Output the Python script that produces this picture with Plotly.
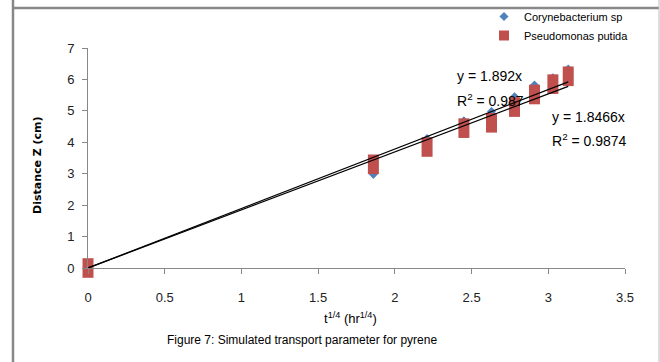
import plotly.graph_objects as go

# data
t_quarter = [0, 1.86, 2.21, 2.45, 2.63, 2.78, 2.91, 3.03, 3.13]
coryne = [0, 2.98, 4.12, 4.68, 4.98, 5.45, 5.82, 6.05, 6.33]
pseudo = [0, 3.30, 3.85, 4.45, 4.62, 5.12, 5.52, 5.85, 6.10]
fit_slopes = {"coryne": 1.892, "pseudo": 1.8466}
fit_r2 = {"coryne": 0.987, "pseudo": 0.9874}
x_ticks = [0, 0.5, 1, 1.5, 2, 2.5, 3, 3.5]
y_ticks = [0, 1, 2, 3, 4, 5, 6, 7]

FONT = "Liberation Sans, Arial, sans-serif"
BLUE = "#4F81BD"
RED = "#C0504D"

fig = go.Figure()

# data traces
fig.add_trace(go.Scatter(
    x=t_quarter, y=coryne, mode="markers", name="Corynebacterium sp",
    marker=dict(symbol="diamond", size=7, color=BLUE),
    cliponaxis=False, showlegend=True, legendrank=1,
))
fig.add_trace(go.Scatter(
    x=t_quarter, y=pseudo, mode="markers", name="Pseudomonas putida",
    marker=dict(symbol="line-ns", size=14, color=RED,
                line=dict(color=RED, width=11)),
    cliponaxis=False, showlegend=False,
))
# legend proxy for the red series (no data points)
fig.add_trace(go.Scatter(
    x=[None], y=[None], mode="markers", name="Pseudomonas putida",
    marker=dict(symbol="square", size=10, color=RED),
    showlegend=True, legendrank=2,
))

x_end = t_quarter[-1]
for key in ["coryne", "pseudo"]:
    s = fit_slopes[key]
    fig.add_trace(go.Scatter(
        x=[0, x_end], y=[0, s * x_end], mode="lines", showlegend=False,
        line=dict(color="black", width=1.2), cliponaxis=False,
    ))

ann_font = dict(family=FONT, size=14, color="#000000")
annotations = [
    dict(x=2.39, y=6.11, xref="x", yref="y", text=f"y = {fit_slopes['coryne']}x",
         showarrow=False, xanchor="left", yanchor="middle", font=ann_font),
    dict(x=2.39, y=5.35, xref="x", yref="y", text=f"R<sup>2</sup> = {fit_r2['coryne']}",
         showarrow=False, xanchor="left", yanchor="middle", font=ann_font),
    dict(x=3.01, y=4.80, xref="x", yref="y", text=f"y = {fit_slopes['pseudo']}x",
         showarrow=False, xanchor="left", yanchor="middle", font=ann_font),
    dict(x=3.01, y=4.07, xref="x", yref="y", text=f"R<sup>2</sup> = {fit_r2['pseudo']}",
         showarrow=False, xanchor="left", yanchor="middle", font=ann_font),
    dict(x=(350 - 88) / 537, y=-(318 - 268) / 220, xref="paper", yref="paper",
         text="t<sup>1/4</sup> (hr<sup>1/4</sup>)", showarrow=False,
         xanchor="center", yanchor="middle",
         font=dict(family=FONT, size=13, color="#000000")),
    dict(x=(302 - 88) / 537, y=-(340 - 268) / 220, xref="paper", yref="paper",
         text="Figure 7: Simulated transport parameter for pyrene", showarrow=False,
         xanchor="center", yanchor="middle",
         font=dict(family=FONT, size=12, color="#000000")),
    dict(x=(37 - 88) / 537, y=(268 - 165) / 220, xref="paper", yref="paper",
         text="<b>Distance Z (cm)</b>", showarrow=False, textangle=-90,
         xanchor="center", yanchor="middle",
         font=dict(family="DejaVu Sans, Verdana, sans-serif", size=11, color="#000000")),
]

xl = (13 - 88) / 537
xr = (659 - 88) / 537
ytop = (268 - 8) / 220
shapes = [
    dict(type="line", xref="paper", yref="paper", x0=xl, x1=xr, y0=ytop, y1=ytop,
         line=dict(color="#888888", width=2.5)),
    dict(type="line", xref="paper", yref="paper", x0=xl, x1=xl,
         y0=-0.5, y1=1.3, line=dict(color="#888888", width=2.5)),
    dict(type="line", xref="paper", yref="paper", x0=xr, x1=xr,
         y0=-0.5, y1=1.3, line=dict(color="#bbbbbb", width=1)),
]

fig.update_layout(
    width=660, height=362,
    margin=dict(l=88, r=35, t=48, b=94, autoexpand=False),
    paper_bgcolor="white", plot_bgcolor="white",
    font=dict(family=FONT, size=13, color="#000000"),
    showlegend=True,
    legend=dict(x=(484 - 88) / 537, y=(268 - 2) / 220, xanchor="left", yanchor="top",
                bgcolor="rgba(0,0,0,0)", font=dict(family=FONT, size=11),
                itemsizing="trace", tracegroupgap=0, traceorder="normal"),
    annotations=annotations,
    shapes=shapes,
    xaxis=dict(range=[0, 3.5], tickvals=x_ticks, ticktext=[str(v) for v in x_ticks],
               showgrid=False, zeroline=False, showline=True, linecolor="#888888",
               linewidth=1, ticks="outside", ticklen=5, tickcolor="#888888",
               ticklabelstandoff=12,
               tickfont=dict(family=FONT, size=13, color="#222222")),
    yaxis=dict(range=[0, 7], tickvals=y_ticks, ticktext=[str(v) for v in y_ticks],
               showgrid=False, zeroline=False, showline=True, linecolor="#888888",
               linewidth=1, ticks="outside", ticklen=5, tickcolor="#888888",
               ticklabelstandoff=5,
               tickfont=dict(family=FONT, size=13, color="#222222")),
)

fig.write_html("out.html", config={"displayModeBar": False},
               post_script="document.body.style.margin='0px';document.body.style.overflow='hidden';")
